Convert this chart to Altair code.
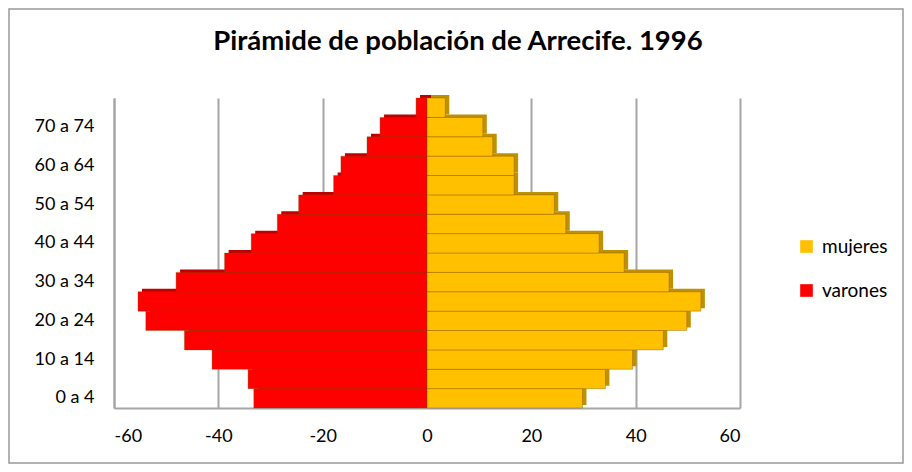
import altair as alt
import pandas as pd

grupos = ["0 a 4", "5 a 9", "10 a 14", "15 a 19", "20 a 24", "25 a 29", "30 a 34", "35 a 39",
          "40 a 44", "45 a 49", "50 a 54", "55 a 59", "60 a 64", "65 a 69", "70 a 74", "75 y más"]
varones = [33.2, 34.3, 41.2, 46.5, 53.9, 55.4, 48.1, 38.8, 33.7, 28.7, 24.6, 17.9, 16.5, 11.5, 9.0, 2.1]
mujeres = [29.8, 34.2, 39.4, 45.3, 49.8, 52.5, 46.4, 37.8, 33.0, 26.6, 24.4, 16.7, 16.7, 12.6, 10.7, 3.5]
etiquetas_y = ["0 a 4", "10 a 14", "20 a 24", "30 a 34", "40 a 44", "50 a 54", "60 a 64", "70 a 74"]
ticks_x = [-60, -40, -20, 0, 20, 40, 60]
series = ["mujeres", "varones"]
colores = ["#FFC000", "#FF0000"]
colores_fondo = ["#BF9000", "#C00000"]
titulo = "Pirámide de población de Arrecife. 1996"

rows = []
for g, v, m in zip(grupos, varones, mujeres):
    rows.append({"grupo": g, "sexo": "varones", "valor": -v})
    rows.append({"grupo": g, "sexo": "mujeres", "valor": m})
df = pd.DataFrame(rows)

W, H = 626, 310
FONT = "Lato"

base = alt.Chart(df)
yenc = alt.Y("grupo:N", sort=grupos[::-1],
             scale=alt.Scale(paddingInner=0, paddingOuter=0),
             axis=alt.Axis(values=etiquetas_y, title=None, ticks=False, labelPadding=20,
                           labelFontSize=18, labelFont=FONT, labelColor="#000000",
                           domain=True, domainColor="#A6A6A6", domainWidth=2, grid=False))
xenc = alt.X("valor:Q", scale=alt.Scale(domain=[-60, 60], nice=False),
             axis=alt.Axis(values=ticks_x, title=None, ticks=False, labelPadding=19,
                           labelExpr="datum.value < 0 ? '-' + abs(datum.value) : '' + datum.value",
                           labelFontSize=18, labelFont=FONT, labelColor="#000000",
                           domain=True, domainColor="#A6A6A6", domainWidth=2,
                           grid=True, gridColor="#A6A6A6", gridWidth=2))

back = base.mark_bar(xOffset=4, x2Offset=4, yOffset=-3, y2Offset=-3).encode(
    x=xenc, y=yenc,
    color=alt.Color("sexo:N", scale=alt.Scale(domain=series, range=colores_fondo), legend=None),
)
front = base.mark_bar(strokeWidth=1, strokeOpacity=0.35, stroke="#7a4a00").encode(
    x=alt.X("valor:Q"), y=alt.Y("grupo:N", sort=grupos[::-1]),
    color=alt.Color("sexo:N", scale=alt.Scale(domain=series, range=colores),
                    legend=alt.Legend(title=None, orient="none", legendX=683, legendY=139,
                                      symbolType="square", symbolSize=160, symbolStrokeWidth=0,
                                      labelFontSize=19, labelFont=FONT, labelColor="#000000",
                                      rowPadding=24, labelOffset=6)),
)

single = alt.Chart(pd.DataFrame({"a": [0]}))
border = single.mark_rect(fill=None, stroke="#999999", strokeWidth=1.5).encode(
    x=alt.value(-105), x2=alt.value(W + 163), y=alt.value(-89), y2=alt.value(H + 55))
title = single.mark_text(text=titulo, font=FONT, fontSize=27.5, fontWeight="bold",
                         color="#000000", align="center", baseline="middle").encode(
    x=alt.value(344), y=alt.value(-56))

chart = alt.layer(border, title, back, front).resolve_scale(color="independent").properties(
    width=W, height=H,
    autosize=alt.AutoSizeParams(type="none"),
    padding={"left": 106, "top": 90, "right": 164, "bottom": 56},
).configure_view(stroke=None)

chart.save("out.html", embed_options={"renderer": "svg", "actions": False})
